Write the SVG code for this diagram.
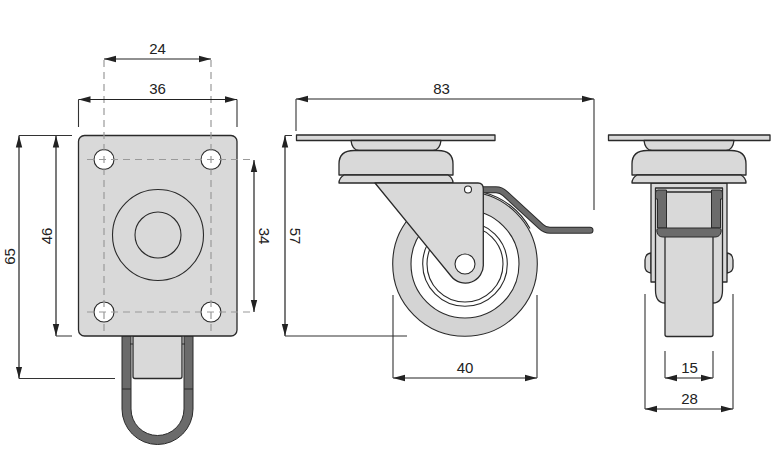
<svg xmlns="http://www.w3.org/2000/svg" width="775" height="464" viewBox="0 0 775 464">
<style>
.b{fill:#d9d9d9;stroke:#2a2a2a;stroke-width:1.3;stroke-linejoin:round}
.t{fill:#d4d4d4;stroke:#2a2a2a;stroke-width:1.1}
.w{fill:#fff;stroke:#2a2a2a;stroke-width:1.1}
.d{fill:#6b6b6b;stroke:#2a2a2a;stroke-width:1}
.n{fill:none;stroke:#2a2a2a;stroke-width:1.1}
.c{fill:none;stroke:#9a9a9a;stroke-width:1.2;stroke-dasharray:7 5}
.x{fill:none;stroke:#333;stroke-width:1.1}
.a{fill:none;stroke:#222;stroke-width:1.2;marker-start:url(#h);marker-end:url(#h)}
text{font-family:"Liberation Sans",Arial,sans-serif;font-size:15px;fill:#222;text-anchor:middle}
</style>
<defs>
<marker id="h" markerUnits="userSpaceOnUse" markerWidth="13" markerHeight="8" refX="12" refY="4" orient="auto-start-reverse"><path d="M0 .8L12 4L0 7.2Z" fill="#222"/></marker>
</defs>
<rect width="775" height="464" fill="#fff"/>
<g id="top-view">
<path class="d" d="M122 336V409A35.500 35.500 0 0 0 193 409V336H184V409A26.500 26.500 0 0 1 131 409V336Z"/>
<path class="n" d="M122 389H131M184 389H193"/>
<path class="b" d="M133 336V376.500Q133 378.500 135 378.500H180Q182 378.500 182 376.500V336Z"/>
<path class="n" d="M133 344H130M182 344H185"/>
<rect class="b" x="78.500" y="135.500" width="158.500" height="200.500" rx="6"/>
<circle class="n" cx="158" cy="235" r="45.500"/>
<circle class="n" cx="158" cy="235" r="23"/>
<circle class="w" cx="104" cy="159.500" r="10"/>
<circle class="w" cx="211" cy="159.500" r="10"/>
<circle class="w" cx="104" cy="312" r="10"/>
<circle class="w" cx="211" cy="312" r="10"/>
<path class="c" d="M104 60V331M211 60V331M87 159.500H254M87 312H254"/>
</g>
<g id="side-view">
<circle class="t" cx="465" cy="264" r="72.300"/>
<circle class="w" cx="465" cy="264" r="54"/>
<circle class="w" cx="465" cy="264" r="42.300"/>
<circle class="w" cx="465" cy="264" r="38"/>
<path class="n" d="M483 192.200A74 74 0 0 1 530 228.600"/>
<path d="M483 189.700H496Q501 189.700 505 193.500L541 226.500Q545 230.300 550 230.300H590" fill="none" stroke="#2a2a2a" stroke-width="7" stroke-linecap="round"/>
<path d="M483 189.700H496Q501 189.700 505 193.500L541 226.500Q545 230.300 550 230.300H590" fill="none" stroke="#6b6b6b" stroke-width="5" stroke-linecap="round"/>
<rect class="b" x="296.500" y="135" width="198.500" height="5.500"/>
<path class="b" d="M351 140.500Q352 150 359 150.500H433Q440 150 441 140.500Z"/>
<path class="b" d="M339 175V164Q339 150.500 354 150.500H438Q453 150.500 453 164V175Z"/>
<path class="b" d="M339 183Q339 178 344 175H448Q453 178 453 183Z"/>
<path class="b" d="M375 183H478Q483.300 183 483.300 189V264A18 18 0 0 1 451 276Z"/>
<circle class="w" cx="468" cy="189.500" r="3.500"/>
<circle class="w" cx="465" cy="264" r="10"/>
</g>
<g id="front-view">
<path class="b" d="M651 253Q645 254 645 260V267Q645 272 651 273Z"/>
<path class="b" d="M727 253Q733 254 733 260V267Q733 272 727 273Z"/>
<path class="b" d="M651 183H727V282H651Z"/>
<path class="b" d="M655.500 188H722.500V290Q722.500 303 713 303H665Q655.500 303 655.500 290Z"/>
<path class="b" d="M665 192H713V334.500Q713 336.500 711 336.500H667Q665 336.500 665 334.500Z"/>
<path class="d" d="M655.500 193Q655.500 190 658 190H666.500V228H657.500V199H655.500Z"/>
<path class="d" d="M722.500 193Q722.500 190 720 190H711.500V228H720.500V199H722.500Z"/>
<path class="d" d="M660 228H718Q722 228 721 232Q720 237 715 237H663Q658 237 657 232Q656 228 660 228Z"/>
<rect class="b" x="608.500" y="135" width="161.500" height="5.500"/>
<path class="b" d="M644 140.500Q645 150 652 150.500H726Q733 150 734 140.500Z"/>
<path class="b" d="M632 175V164Q632 150.500 647 150.500H731Q746 150.500 746 164V175Z"/>
<path class="b" d="M632 183Q632 178 637 175H741Q746 178 746 183Z"/>
</g>
<g id="dimensions">
<path class="a" d="M104 59H211"/>
<path class="a" d="M78.500 99.500H237"/>
<path class="a" d="M19 135.500V378.500"/>
<path class="a" d="M56 135.500V336"/>
<path class="a" d="M254 160V312"/>
<path class="a" d="M285 135.500V336"/>
<path class="a" d="M296 99H594"/>
<path class="a" d="M393 378H537"/>
<path class="a" d="M665 378H713"/>
<path class="a" d="M645 409H733"/>
<path class="x" d="M78.500 99.500V127M237 99.500V127M19 135.500H72M19 378.500H115M56 336H72M285 135.500H292M285 336H407M296 99V131M594 99V210M393 295V378M537 295V378M665 351V378M713 351V378M645 294V409M733 294V409"/>
</g>
<g id="labels">
<text x="157.500" y="54">24</text>
<text x="157.500" y="94">36</text>
<text x="441.500" y="94">83</text>
<text x="465" y="373">40</text>
<text x="689.500" y="373">15</text>
<text x="689.500" y="404">28</text>
<text transform="translate(15 256.500) rotate(-90)">65</text>
<text transform="translate(51.500 236) rotate(-90)">46</text>
<text transform="translate(258.500 236) rotate(90)">34</text>
<text transform="translate(289.500 236) rotate(90)">57</text>
</g>
</svg>
